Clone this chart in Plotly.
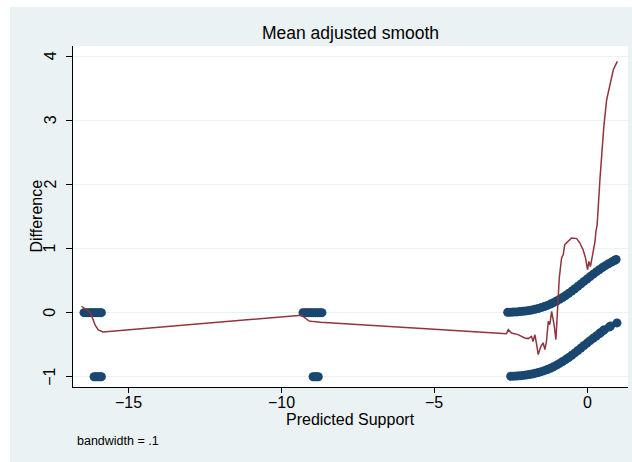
import plotly.graph_objects as go

# Observed differences (predicted support clusters)
left_zero_x = [-16.47, -16.40, -16.33, -16.26, -16.20, -16.14, -16.08, -16.02, -15.96, -15.90]
left_zero_y = [0.0] * len(left_zero_x)
left_neg_x = [-16.14, -16.08, -16.02, -15.96, -15.90]
left_neg_y = [-1.0] * len(left_neg_x)

mid_zero_x = [-9.30, -9.24, -9.17, -9.10, -9.03, -8.96, -8.89, -8.82, -8.75, -8.68]
mid_zero_y = [0.0] * len(mid_zero_x)
mid_neg_x = [-8.97, -8.91, -8.85, -8.80]
mid_neg_y = [-1.0] * len(mid_neg_x)

upper_x = [-2.6, -2.5, -2.4, -2.3, -2.2, -2.1, -2.0, -1.9, -1.8, -1.7, -1.6, -1.5,
           -1.4, -1.3, -1.2, -1.1, -1.0, -0.9, -0.8, -0.7, -0.6, -0.5, -0.4, -0.3,
           -0.2, -0.1, 0.0, 0.1, 0.2, 0.3, 0.4, 0.5, 0.6, 0.7, 0.8, 0.9, 0.95]
upper_y = [0.005, 0.007, 0.009, 0.012, 0.016, 0.021, 0.027, 0.034, 0.043, 0.053, 0.065, 0.079,
           0.095, 0.113, 0.133, 0.156, 0.181, 0.208, 0.237, 0.268, 0.301, 0.336, 0.372, 0.41,
           0.448, 0.487, 0.525, 0.563, 0.60, 0.636, 0.67, 0.703, 0.733, 0.762, 0.789, 0.814, 0.83]

lower_x = [-2.5, -2.4, -2.3, -2.2, -2.1, -2.0, -1.9, -1.8, -1.7, -1.6, -1.5, -1.4,
           -1.3, -1.2, -1.1, -1.0, -0.9, -0.8, -0.7, -0.6, -0.5, -0.4, -0.3, -0.2,
           -0.1, 0.0, 0.1, 0.2, 0.3, 0.4, 0.45, 0.53, 0.57, 0.72, 0.77, 0.98]
lower_y = [-0.993, -0.991, -0.988, -0.984, -0.979, -0.973, -0.966, -0.957, -0.947, -0.935, -0.921, -0.905,
           -0.887, -0.867, -0.844, -0.819, -0.792, -0.763, -0.732, -0.699, -0.664, -0.628, -0.59, -0.552,
           -0.513, -0.475, -0.437, -0.40, -0.364, -0.33, -0.31, -0.28, -0.265, -0.225, -0.21, -0.16]

# Lowess-style smooth of the differences
smooth_x = [-16.55, -16.42, -16.26, -16.18, -16.10, -16.00, -15.85,
            -9.35, -9.20, -9.10, -8.95, -8.72,
            -3.02, -2.64, -2.58, -2.47, -2.26, -2.04, -1.93, -1.82, -1.77, -1.71,
            -1.65, -1.60, -1.51, -1.44, -1.38, -1.33, -1.27, -1.22, -1.16, -1.11,
            -1.08, -1.02, -0.99, -0.95, -0.91, -0.835, -0.78, -0.73, -0.62, -0.51,
            -0.34, -0.24, -0.13, -0.05, 0.015, 0.06, 0.11, 0.17, 0.22, 0.26,
            0.29, 0.33, 0.42, 0.55, 0.64, 0.75, 0.86, 0.99]
smooth_y = [0.10, 0.05, 0.0, -0.10, -0.20, -0.27, -0.30,
            -0.04, -0.09, -0.13, -0.14, -0.15,
            -0.317, -0.33, -0.265, -0.317, -0.343, -0.395, -0.405, -0.37, -0.45, -0.343,
            -0.50, -0.655, -0.525, -0.47, -0.577, -0.447, -0.135, -0.187, 0.02, -0.083,
            -0.187, -0.42, -0.187, 0.176, 0.54, 0.85, 0.905, 1.06, 1.11, 1.165,
            1.155, 1.09, 0.98, 0.85, 0.67, 0.80, 0.72, 0.88, 0.955, 1.11,
            1.27, 1.37, 2.07, 2.91, 3.32, 3.58, 3.79, 3.92]

x_ticks = [-15, -10, -5, 0]
y_ticks = [-1, 0, 1, 2, 3, 4]


def tick_text(v):
    return ("\u2212" + str(-v)) if v < 0 else str(v)


FONT = "Liberation Sans, Arial, sans-serif"
MARKER = "#1a476f"
LINE = "#90353b"
BG = "#eaf2f3"

diff_x = left_zero_x + left_neg_x + mid_zero_x + mid_neg_x + upper_x + lower_x
diff_y = left_zero_y + left_neg_y + mid_zero_y + mid_neg_y + upper_y + lower_y

fig = go.Figure()
fig.add_trace(go.Scatter(
    x=diff_x, y=diff_y, mode="markers",
    marker=dict(color=MARKER, size=9, line=dict(width=0)),
    showlegend=False, hoverinfo="skip"))
fig.add_trace(go.Scatter(
    x=smooth_x, y=smooth_y, mode="lines",
    line=dict(color=LINE, width=1.5),
    showlegend=False, hoverinfo="skip"))

W, H = 632, 462
ml, mr, mt, mb = 73, 4, 46, 75
pw, ph = W - ml - mr, H - mt - mb


def px_x(p):
    return (p - ml) / pw


def px_y(p):
    return (H - mb - p) / ph


# White page edge along the top and left of the graph region
fig.add_shape(type="rect", xref="paper", yref="paper", layer="above",
              x0=px_x(0), x1=px_x(W), y0=px_y(7), y1=px_y(-2),
              fillcolor="white", line=dict(width=0))
fig.add_shape(type="rect", xref="paper", yref="paper", layer="above",
              x0=px_x(-2), x1=px_x(10), y0=px_y(H + 2), y1=px_y(-2),
              fillcolor="white", line=dict(width=0))

annotations = []
for v in y_ticks:
    annotations.append(dict(text=tick_text(v), xref="paper", yref="y", x=px_x(50), y=v,
                            xanchor="center", yanchor="middle", textangle=-90,
                            showarrow=False, font=dict(size=16, family=FONT, color="#000000")))
for v in x_ticks:
    annotations.append(dict(text=tick_text(v), xref="x", yref="paper", x=v, y=px_y(402),
                            xanchor="center", yanchor="middle",
                            showarrow=False, font=dict(size=16, family=FONT, color="#000000")))
annotations.append(dict(text="Difference", xref="paper", yref="paper",
                        x=px_x(36), y=0.5, xanchor="center", yanchor="middle", textangle=-90,
                        showarrow=False, font=dict(size=16, family=FONT, color="#000000")))
annotations.append(dict(text="Predicted Support", xref="paper", yref="paper",
                        x=0.5, y=px_y(420), xanchor="center", yanchor="middle",
                        showarrow=False, font=dict(size=16, family=FONT, color="#000000")))
annotations.append(dict(text="bandwidth = .1", xref="paper", yref="paper",
                        x=px_x(75), y=px_y(441), xanchor="left", yanchor="middle",
                        showarrow=False, font=dict(size=12.5, family=FONT, color="#000000")))

fig.update_layout(
    width=W, height=H,
    margin=dict(l=ml, r=mr, t=mt, b=mb),
    paper_bgcolor=BG,
    plot_bgcolor="white",
    font=dict(family=FONT, color="#000000", size=16),
    title=dict(text="Mean adjusted smooth", x=(ml + pw / 2) / W, xanchor="center",
               y=1 - 33 / H, yanchor="middle",
               font=dict(size=17.5, family=FONT, color="#000000")),
    xaxis=dict(range=[-16.83, 1.34], tickvals=x_ticks, showticklabels=False,
               showgrid=False, zeroline=False,
               showline=True, linecolor="#000000", linewidth=1,
               ticks="outside", ticklen=5, tickcolor="#000000"),
    yaxis=dict(range=[-1.16, 4.16], tickvals=y_ticks, showticklabels=False,
               showgrid=True, gridcolor=BG, gridwidth=1, zeroline=False,
               showline=True, linecolor="#000000", linewidth=1,
               ticks="outside", ticklen=6, tickcolor="#000000"),
    annotations=annotations,
)

fig.write_html("out.html")
